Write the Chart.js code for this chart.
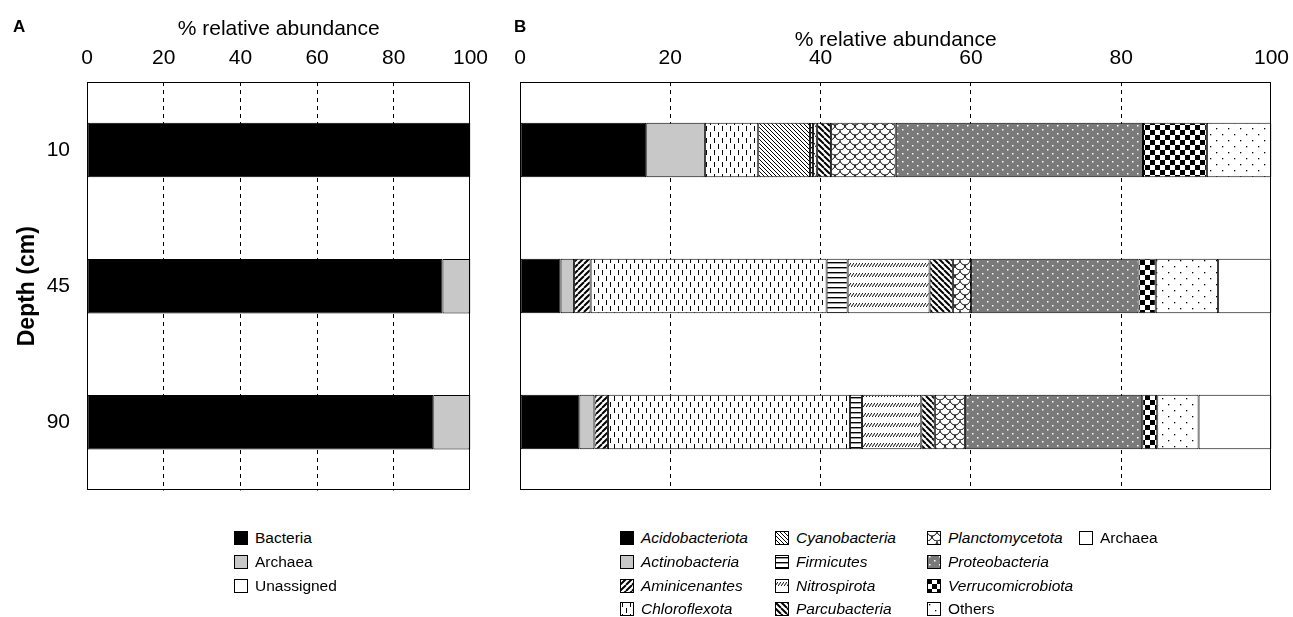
<!DOCTYPE html>
<html>
<head>
<meta charset="utf-8">
<script src="https://cdn.jsdelivr.net/npm/chart.js@4.4.1/dist/chart.umd.min.js"></script>
<style>
  body { margin: 0; background: #fff; font-family: "Liberation Sans", Arial, sans-serif; }
  #wrap { position: relative; width: 1293px; height: 617px; overflow: hidden; }
  #wrap canvas.ch { position: absolute; top: 0; }
  .lbl { position: absolute; top: 18px; font-size: 17px; line-height: 17px; font-weight: bold; }
  .item { position: absolute; height: 18px; display: flex; align-items: center; white-space: nowrap; font-size: 15.5px; }
  .item canvas { width: 14px; height: 14px; margin-right: 7px; }
  .it { font-style: italic; }
</style>
</head>
<body>
<div id="wrap">
  <canvas id="chartA" class="ch" width="499" height="520" style="left:0"></canvas>
  <canvas id="chartB" class="ch" width="800" height="500" style="left:500px"></canvas>
  <div class="lbl" style="left:13px">A</div>
  <div class="lbl" style="left:514px">B</div>
</div>
<script>
// depth categories
const depths = ['10', '45', '90'];
const xTicks = [0, 20, 40, 60, 80, 100];

// panel A - domains
const bacteria   = [100, 92.7, 90.3];
const archaea    = [0, 7.1, 9.5];
const unassigned = [0, 0.2, 0.2];

// panel B - phyla (stack order = legend order)
const acidobacteriota   = [16.8, 5.4, 7.9];
const actinobacteria    = [7.8, 1.8, 2.0];
const aminicenantes     = [0, 2.2, 1.8];
const chloroflexota     = [7.1, 31.4, 32.2];
const cyanobacteria     = [6.9, 0, 0];
const firmicutes        = [0.4, 2.8, 1.6];
const nitrospirota      = [0.5, 10.9, 7.9];
const parcubacteria     = [1.9, 3.1, 1.8];
const planctomycetota   = [8.6, 2.4, 4.0];
const proteobacteria    = [32.9, 22.3, 23.6];
const verrucomicrobiota = [8.5, 2.3, 2.0];
const others            = [8.6, 8.3, 5.5];
const archaeaB          = [0, 7.1, 9.7];

// ---- fill patterns ----
function tile(w, h, bg, draw) {
  const c = document.createElement('canvas');
  c.width = w; c.height = h;
  const g = c.getContext('2d');
  g.fillStyle = bg; g.fillRect(0, 0, w, h);
  g.strokeStyle = '#000'; g.fillStyle = '#000';
  draw(g, w, h);
  return c;
}
function slash(s, lw) {
  return tile(s, s, '#fff', (g) => {
    g.lineWidth = lw; g.beginPath();
    for (let k = -1; k <= 1; k++) { g.moveTo(k * s, s); g.lineTo(k * s + s, 0); }
    g.stroke();
  });
}
function backslash(s, lw) {
  return tile(s, s, '#fff', (g) => {
    g.lineWidth = lw; g.beginPath();
    for (let k = -1; k <= 1; k++) { g.moveTo(k * s, 0); g.lineTo(k * s + s, s); }
    g.stroke();
  });
}
const tiles = {
  solidBlack: '#000',
  grey: '#c8c8c8',
  white: '#fff',
  amin: slash(6, 2),
  chloro: tile(8, 12, '#fff', (g) => { g.fillRect(2, 0, 1, 5); g.fillRect(6, 6, 1, 5); }),
  cyano: backslash(4, 1),
  firm: tile(4, 5, '#fff', (g) => { g.fillRect(0, 2, 4, 1.4); }),
  nitro: tile(3, 10, '#fff', (g) => { g.lineWidth = 1; g.beginPath(); g.moveTo(0, 7); g.lineTo(3, 3); g.stroke(); }),
  parcu: backslash(6, 2),
  plancto: tile(10, 10, '#fff', (g) => {
    g.lineWidth = 1; g.beginPath();
    g.arc(5, 0, 5, 0, Math.PI); g.moveTo(5, 5);
    g.arc(0, 5, 5, 0, Math.PI); g.moveTo(15, 5);
    g.arc(10, 5, 5, 0, Math.PI);
    g.stroke();
  }),
  proteo: tile(10, 8, '#7a7a7a', (g) => { g.fillStyle = '#fff'; g.fillRect(2, 1, 1.5, 1.5); g.fillRect(7, 5, 1.5, 1.5); }),
  verruco: tile(10, 10, '#fff', (g) => { g.fillRect(0, 0, 5, 5); g.fillRect(5, 5, 5, 5); }),
  others: tile(12, 12, '#fff', (g) => { g.fillRect(2, 2, 1.3, 1.3); g.fillRect(8, 8, 1.3, 1.3); })
};
function fillFor(ctx, key) {
  const t = tiles[key];
  return typeof t === 'string' ? t : ctx.createPattern(t, 'repeat');
}

const phyla = [
  ['Acidobacteriota', acidobacteriota, 'solidBlack', true],
  ['Actinobacteria', actinobacteria, 'grey', true],
  ['Aminicenantes', aminicenantes, 'amin', true],
  ['Chloroflexota', chloroflexota, 'chloro', true],
  ['Cyanobacteria', cyanobacteria, 'cyano', true],
  ['Firmicutes', firmicutes, 'firm', true],
  ['Nitrospirota', nitrospirota, 'nitro', true],
  ['Parcubacteria', parcubacteria, 'parcu', true],
  ['Planctomycetota', planctomycetota, 'plancto', true],
  ['Proteobacteria', proteobacteria, 'proteo', true],
  ['Verrucomicrobiota', verrucomicrobiota, 'verruco', true],
  ['Others', others, 'others', false],
  ['Archaea', archaeaB, 'white', false]
];
const domains = [
  ['Bacteria', bacteria, 'solidBlack', false],
  ['Archaea', archaea, 'grey', false],
  ['Unassigned', unassigned, 'white', false]
];

// ---- chart setup ----
const FONT = "'Liberation Sans', Arial, sans-serif";
const boxPlugin = {
  id: 'box',
  afterDatasetsDraw(chart) {
    const { ctx, chartArea: a } = chart;
    ctx.save();
    ctx.strokeStyle = '#000'; ctx.lineWidth = 1;
    ctx.strokeRect(Math.round(a.left) + 0.5, Math.round(a.top) + 0.5, Math.round(a.width) - 1, Math.round(a.height) - 1);
    ctx.restore();
  }
};

function makeChart(id, rows, showY, padding, titlePad) {
  const canvas = document.getElementById(id);
  const ctx = canvas.getContext('2d');
  return new Chart(canvas, {
    type: 'bar',
    data: {
      labels: depths,
      datasets: rows.map(r => ({ label: r[0], data: r[1], backgroundColor: fillFor(ctx, r[2]) }))
    },
    options: {
      indexAxis: 'y',
      responsive: false,
      maintainAspectRatio: false,
      animation: false,
      layout: { padding: padding },
      datasets: { bar: { borderColor: '#000', borderWidth: 1, borderSkipped: false, barPercentage: 0.4, categoryPercentage: 1 } },
      plugins: { legend: { display: false }, tooltip: { enabled: false } },
      scales: {
        x: {
          position: 'top', stacked: true, min: 0, max: 100,
          afterBuildTicks: (s) => { s.ticks = xTicks.map(v => ({ value: v })); },
          afterFit: (s) => { s.height = 82; },
          ticks: { color: '#000', padding: 11, maxRotation: 0, font: { family: FONT, size: 21 } },
          grid: {
            drawTicks: false, lineWidth: 1,
            color: (c) => (c.tick && c.tick.value > 0 && c.tick.value < 100) ? '#000' : 'rgba(0,0,0,0)'
          },
          border: { display: false, dash: [4, 4] },
          title: { display: true, text: '% relative abundance', color: '#000', padding: { top: titlePad, bottom: 0 }, font: { family: FONT, size: 21 } }
        },
        y: {
          stacked: true, display: showY,
          afterFit: (s) => { s.width = showY ? 87 : 0; },
          ticks: { color: '#000', padding: 17, font: { family: FONT, size: 21 } },
          grid: { display: false, drawTicks: false },
          border: { display: false },
          title: { display: true, text: 'Depth (cm)', color: '#000', padding: { top: 14, bottom: 0 }, font: { family: FONT, size: 23, weight: 'bold' } }
        }
      }
    },
    plugins: [boxPlugin]
  });
}

// grow/shrink the canvas until the plot box sits on the wanted right/bottom edges
function fitArea(chart, right, bottom) {
  for (let i = 0; i < 4; i++) {
    const a = chart.chartArea;
    const dr = Math.round(right - a.right), db = Math.round(bottom - a.bottom);
    if (!dr && !db) break;
    chart.resize(chart.width + dr, chart.height + db);
  }
}

const chartA = makeChart('chartA', domains, true, { left: 0, right: 0, top: 0, bottom: 0 }, 17);
const chartB = makeChart('chartB', phyla, false, { left: 20, right: 0, top: 0, bottom: 10 }, 28);
fitArea(chartA, 470, 490);
fitArea(chartB, 771, 490);

// ---- legends ----
const rowY = [538, 562, 586, 609];
function addItem(x, y, row) {
  const wrap = document.getElementById('wrap');
  const d = document.createElement('div');
  d.className = 'item';
  d.style.left = x + 'px';
  d.style.top = (y - 9) + 'px';
  const sw = document.createElement('canvas');
  sw.width = 14; sw.height = 14;
  const g = sw.getContext('2d');
  g.fillStyle = fillFor(g, row[2]);
  g.fillRect(0, 0, 14, 14);
  g.strokeStyle = '#000'; g.lineWidth = 1;
  g.strokeRect(0.5, 0.5, 13, 13);
  const t = document.createElement('span');
  t.textContent = row[0];
  if (row[3]) t.className = 'it';
  d.appendChild(sw); d.appendChild(t);
  wrap.appendChild(d);
}
domains.forEach((r, i) => addItem(234, rowY[i], r));
const colX = [620, 775, 927, 1079];
phyla.forEach((r, i) => addItem(colX[Math.floor(i / 4)], rowY[i % 4], r));
</script>
</body>
</html>
